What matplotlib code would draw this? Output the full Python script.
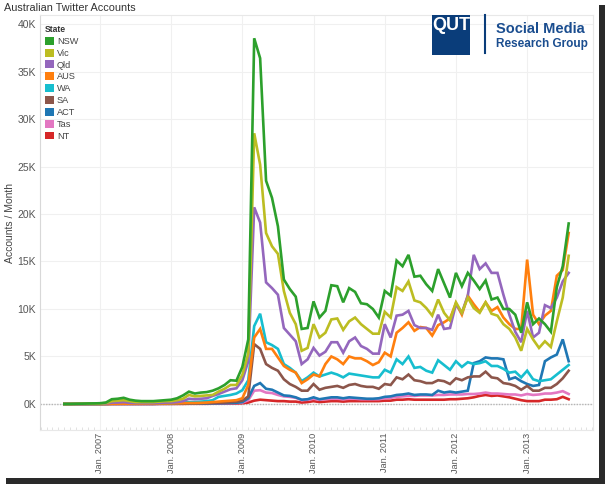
## Australian Twitter accounts per month, by state (Tableau style chart)

import numpy as np
import matplotlib
matplotlib.use('Agg')
import matplotlib.pyplot as plt
from matplotlib.patches import Rectangle, Patch
from matplotlib.ticker import FuncFormatter, MultipleLocator

plt.rcParams['font.family'] = ['Liberation Sans', 'DejaVu Sans']

# monthly values in thousands of accounts, Jul 2006 .. Aug 2013
months_start = 'Jul. 2006'
tick_months = [6, 18, 30, 42, 54, 66, 78]
tick_labels = ['Jan. 2007', 'Jan. 2008', 'Jan. 2009', 'Jan. 2010', 'Jan. 2011', 'Jan. 2012', 'Jan. 2013']

states = ['NSW', 'Vic', 'Qld', 'AUS', 'WA', 'SA', 'ACT', 'Tas', 'NT']
colors = ['#2ca02c', '#bcbd22', '#9467bd', '#ff7f0e', '#17becf', '#8c564b', '#1f77b4', '#e377c2', '#d62728']

nsw = [0, 0, 0.02, 0.03, 0.05, 0.06, 0.08, 0.15, 0.5, 0.55, 0.65, 0.45, 0.35, 0.3, 0.3, 0.3,
       0.35, 0.4, 0.45, 0.6, 0.9, 1.3, 1.1, 1.2, 1.25, 1.4, 1.65, 2.0, 2.5, 2.45, 3.9, 6.8,
       38.5, 36.4, 23.5, 21.7, 18.7, 13.1, 12.1, 11.3, 7.9, 8.0, 10.8, 9.1, 9.8, 12.5, 12.4, 10.7,
       12.2, 11.8, 10.6, 10.5, 10.0, 9.1, 11.9, 11.4, 15.1, 14.5, 15.7, 13.4, 13.5, 12.6, 11.9, 14.2,
       12.7, 11.2, 13.8, 12.4, 13.8, 13.0, 12.1, 13.0, 11.0, 11.2, 10.0, 10.0, 9.4, 7.5, 10.7, 8.4,
       9.0, 8.4, 7.6, 12.3, 14.5, 19.0]
vic = [0, 0, 0.01, 0.02, 0.03, 0.04, 0.05, 0.1, 0.3, 0.35, 0.4, 0.3, 0.2, 0.2, 0.2, 0.2,
       0.25, 0.3, 0.3, 0.4, 0.55, 0.95, 0.8, 0.85, 0.9, 0.95, 1.3, 1.6, 2.0, 2.0, 3.05, 5.3,
       28.5, 25.2, 18.0, 16.6, 15.8, 11.9, 9.6, 8.4, 5.6, 5.9, 8.4, 7.0, 7.5, 8.9, 9.0, 7.8,
       8.7, 9.1, 8.4, 7.9, 7.4, 7.4, 9.7, 9.1, 12.3, 11.9, 12.9, 10.9, 10.7, 10.1, 9.3, 11.0,
       9.6, 8.8, 10.7, 9.6, 11.2, 10.1, 9.6, 10.7, 9.5, 9.3, 8.4, 7.9, 7.0, 5.6, 7.9, 6.8,
       5.9, 6.6, 6.0, 8.7, 11.2, 15.6]
qld = [0, 0, 0, 0.01, 0.02, 0.02, 0.03, 0.05, 0.15, 0.15, 0.2, 0.12, 0.1, 0.1, 0.1, 0.1,
       0.12, 0.15, 0.15, 0.2, 0.3, 0.55, 0.5, 0.55, 0.6, 0.85, 1.05, 1.3, 1.55, 1.65, 2.5, 4.5,
       20.7, 19.1, 12.8, 12.2, 11.5, 8.0, 7.3, 6.6, 4.2, 4.7, 5.9, 5.1, 5.5, 6.5, 6.5, 5.4,
       6.6, 7.0, 6.1, 5.8, 5.3, 5.3, 8.4, 7.0, 9.3, 9.4, 9.8, 8.3, 8.0, 8.0, 7.8, 9.4,
       7.9, 8.0, 10.5, 9.6, 11.4, 15.7, 14.2, 14.8, 13.8, 13.8, 11.5, 9.4, 7.6, 6.5, 9.8, 7.0,
       7.5, 10.4, 10.1, 11.2, 12.9, 13.8]
aus = [0, 0, 0, 0, 0, 0, 0, 0, 0.02, 0.02, 0.03, 0.03, 0.03, 0.03, 0.04, 0.04,
       0.05, 0.05, 0.06, 0.07, 0.08, 0.1, 0.1, 0.12, 0.15, 0.2, 0.25, 0.3, 0.35, 0.4, 0.6, 2.0,
       7.0, 7.9, 5.8, 5.8, 4.9, 4.0, 3.6, 3.3, 2.2, 2.6, 3.1, 2.9, 4.2, 5.0, 4.7, 4.2,
       5.0, 4.8, 4.8, 4.5, 4.1, 4.4, 5.4, 5.0, 7.5, 8.0, 8.6, 7.7, 8.1, 8.0, 7.2, 8.3,
       8.6, 9.0, 10.6, 9.4, 11.4, 10.5, 9.7, 10.7, 9.8, 10.2, 9.1, 8.4, 7.9, 7.9, 15.2, 9.4,
       8.4, 9.3, 9.8, 13.5, 14.1, 18.0]
wa = [0, 0, 0, 0, 0, 0, 0.01, 0.02, 0.05, 0.05, 0.06, 0.05, 0.05, 0.05, 0.05, 0.05,
      0.06, 0.07, 0.08, 0.1, 0.15, 0.2, 0.2, 0.25, 0.3, 0.4, 0.75, 0.85, 0.95, 1.1, 1.45, 2.5,
      8.2, 9.5, 6.5, 6.2, 5.8, 4.2, 3.8, 3.3, 2.4, 2.8, 3.3, 2.9, 3.1, 3.3, 3.1, 2.8,
      3.2, 3.1, 3.0, 2.9, 2.8, 2.8, 3.6, 3.3, 4.7, 4.2, 5.0, 3.8, 3.9, 3.5, 3.3, 4.6,
      4.1, 3.6, 4.5, 3.9, 4.4, 4.2, 4.3, 4.5, 4.0, 4.0, 3.7, 3.3, 3.4, 2.8, 3.5, 2.6,
      2.4, 2.5, 2.6, 3.1, 3.6, 4.1]
sa = [0, 0, 0, 0, 0, 0, 0, 0.01, 0.02, 0.02, 0.02, 0.02, 0.02, 0.02, 0.02, 0.02,
      0.03, 0.03, 0.04, 0.05, 0.05, 0.06, 0.06, 0.07, 0.08, 0.1, 0.12, 0.15, 0.2, 0.25, 0.35, 0.8,
      6.3, 5.8, 4.2, 3.8, 3.5, 2.6, 2.1, 1.8, 1.4, 1.4, 2.1, 1.5, 1.7, 1.8, 1.9, 1.7,
      2.0, 2.1, 1.9, 1.8, 1.8, 1.6, 2.1, 2.0, 2.8, 2.6, 3.1, 2.5, 2.4, 2.2, 2.2, 2.5,
      2.4, 2.1, 2.7, 2.5, 2.8, 2.9, 2.9, 3.4, 2.8, 2.7, 2.2, 2.1, 1.9, 1.5, 1.9, 1.4,
      1.4, 1.7, 1.7, 2.1, 2.7, 3.5]
act = [0, 0, 0, 0, 0, 0, 0, 0, 0.01, 0.01, 0.01, 0.01, 0.01, 0.01, 0.01, 0.01,
       0.02, 0.02, 0.02, 0.03, 0.03, 0.04, 0.04, 0.05, 0.05, 0.06, 0.07, 0.08, 0.1, 0.12, 0.2, 0.6,
       1.9, 2.2, 1.6, 1.5, 1.2, 0.9, 0.85, 0.7, 0.45, 0.5, 0.7, 0.5, 0.6, 0.7, 0.7, 0.6,
       0.7, 0.65, 0.6, 0.55, 0.55, 0.6, 0.75, 0.8, 0.95, 1.0, 1.1, 0.95, 1.0, 1.0, 0.95, 1.4,
       1.2, 1.3, 1.2, 1.3, 1.4, 4.3, 4.5, 4.9, 4.8, 4.8, 4.7, 2.6, 2.8, 2.4, 2.1, 1.9,
       2.0, 4.5, 4.9, 5.2, 6.8, 4.5]
tas = [0, 0, 0, 0, 0, 0, 0, 0, 0.01, 0.01, 0.01, 0.01, 0.01, 0.01, 0.01, 0.01,
       0.01, 0.02, 0.02, 0.02, 0.03, 0.03, 0.03, 0.04, 0.04, 0.05, 0.06, 0.07, 0.08, 0.1, 0.15, 0.4,
       1.4, 1.45, 1.2, 1.15, 0.95, 0.8, 0.75, 0.65, 0.4, 0.45, 0.55, 0.45, 0.5, 0.55, 0.55, 0.5,
       0.55, 0.55, 0.5, 0.5, 0.5, 0.5, 0.6, 0.65, 0.75, 0.8, 0.85, 0.85, 0.9, 0.9, 0.9, 0.95,
       0.95, 1.0, 1.0, 1.0, 1.05, 1.05, 1.1, 1.2, 1.1, 1.1, 1.05, 1.0, 1.0, 0.9, 1.05, 0.95,
       1.0, 1.1, 1.1, 1.2, 1.35, 1.05]
nt = [0, 0, 0, 0, 0, 0, 0, 0, 0, 0, 0, 0, 0, 0, 0, 0,
      0.01, 0.01, 0.01, 0.01, 0.01, 0.02, 0.02, 0.02, 0.02, 0.03, 0.03, 0.03, 0.04, 0.05, 0.08, 0.15,
      0.35, 0.45, 0.4, 0.35, 0.3, 0.3, 0.25, 0.25, 0.15, 0.2, 0.3, 0.2, 0.25, 0.3, 0.3, 0.25,
      0.3, 0.3, 0.3, 0.3, 0.3, 0.3, 0.35, 0.35, 0.45, 0.45, 0.5, 0.45, 0.45, 0.45, 0.45, 0.45,
      0.45, 0.5, 0.5, 0.55, 0.6, 0.7, 0.85, 0.95, 0.85, 0.9, 0.8, 0.7, 0.55, 0.4, 0.3, 0.3,
      0.3, 0.45, 0.45, 0.5, 0.75, 0.5]

series = [nsw, vic, qld, aus, wa, sa, act, tas, nt]

W, H = 605, 484
fig = plt.figure(figsize=(W / 100, H / 100), dpi=100)
fig.patch.set_facecolor('white')

def px(x, y):
    # pixel (from top-left) -> figure fraction
    return x / W, 1 - y / H

ax = fig.add_axes([40 / W, 1 - 430 / H, (593 - 40) / W, (430 - 15) / H])

months = np.arange(len(nsw))
# draw NT first so NSW ends up on top
for name, vals, c in reversed(list(zip(states, series, colors))):
    ax.plot(months, vals, color=c, lw=1.9, solid_joinstyle='miter', label=name)

ax.set_xlim(-4.1, 89.1)
ax.set_ylim(-2.74, 40.95)
ax.yaxis.set_major_locator(MultipleLocator(5))
ax.yaxis.set_major_formatter(FuncFormatter(lambda v, p: '%dK' % v))
ax.set_xticks(tick_months)
ax.set_xticklabels(tick_labels, rotation=90)
ax.set_xticks(np.arange(-4, 90), minor=True)

ax.grid(True, which='major', color='#f0f0f0', lw=0.8)
ax.set_axisbelow(True)
ax.axhline(0, color='#b5b5b5', lw=1.0, ls=(0, (1, 1)), zorder=1)

for side in ['top', 'right', 'bottom']:
    ax.spines[side].set_color('#e8e8e8')
ax.spines['left'].set_color('#d8d8d8')
ax.tick_params(axis='both', which='major', length=0, labelsize=7.5, colors='#555555', pad=3)
ax.tick_params(axis='x', which='minor', length=2, color='#dddddd', direction='in')
ax.tick_params(axis='x', which='major', labelsize=6.6, pad=2)

ax.set_ylabel('Accounts / Month', fontsize=7.5, color='#444444', labelpad=2)

fig.text(*px(4, 8), 'Australian Twitter Accounts', fontsize=7.8, color='#333333', va='center', ha='left')

handles = [Patch(facecolor=c, edgecolor='none') for c in colors]
leg = ax.legend(handles, states, title='State', loc='upper left',
                bbox_to_anchor=px(45, 25), bbox_transform=fig.transFigure,
                frameon=False, fontsize=6.6, handlelength=0.95, handleheight=0.95,
                handletextpad=0.35, labelspacing=0.3, borderpad=0, borderaxespad=0,
                alignment='left', title_fontproperties={'weight': 'bold', 'size': 6.2})
for t in leg.get_texts():
    t.set_color('#444444')
leg.get_title().set_color('#333333')

# QUT logo block
x0, y0 = px(432, 55)
fig.patches.append(Rectangle((x0, y0), 38 / W, 40 / H, transform=fig.transFigure,
                             facecolor='#0a3d7a', edgecolor='none', zorder=5))
fig.text(*px(451, 26), 'QUT', fontsize=13, fontweight='bold', color='white',
         ha='center', va='center', zorder=6)
fig.add_artist(plt.Line2D([485 / W, 485 / W], [1 - 15 / H, 1 - 53 / H], color='#0a3d7a', lw=1.5,
                          transform=fig.transFigure))
fig.text(*px(496, 29), 'Social Media', fontsize=10.5, fontweight='bold', color='#1a4d8f',
         ha='left', va='center')
fig.text(*px(496, 44), 'Research Group', fontsize=8.5, fontweight='bold', color='#1a4d8f',
         ha='left', va='center')

# screenshot shadow on right and bottom edges
fig.patches.append(Rectangle((599 / W, 0), 6 / W, 1 - 5 / H, transform=fig.transFigure,
                             facecolor='#2a2a2a', edgecolor='none'))
fig.patches.append(Rectangle((6 / W, 0), 1, 6 / H, transform=fig.transFigure,
                             facecolor='#2a2a2a', edgecolor='none'))

fig.savefig('out.png', dpi=100)
